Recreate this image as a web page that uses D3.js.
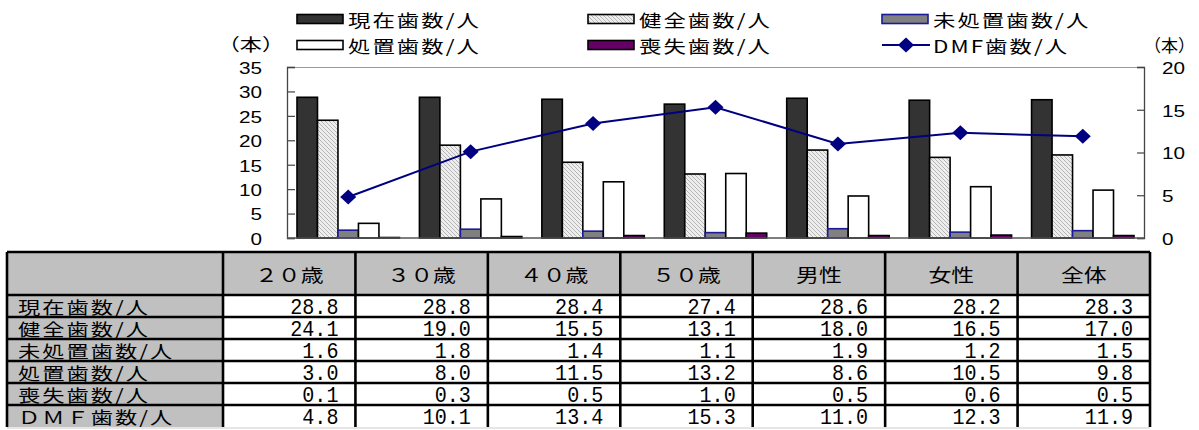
<!DOCTYPE html>
<html><head><meta charset="utf-8">
<script src="https://cdn.jsdelivr.net/npm/d3@7"></script>
<style>body{margin:0;background:#fff}svg{display:block}</style>
</head><body>
<svg id="c" width="1199" height="430"></svg>
<script>
const categories = ["２０歳","３０歳","４０歳","５０歳","男性","女性","全体"];
const present   = [28.8,28.8,28.4,27.4,28.6,28.2,28.3];
const healthy   = [24.1,19.0,15.5,13.1,18.0,16.5,17.0];
const untreated = [1.6,1.8,1.4,1.1,1.9,1.2,1.5];
const treated   = [3.0,8.0,11.5,13.2,8.6,10.5,9.8];
const lost      = [0.1,0.3,0.5,1.0,0.5,0.6,0.5];
const dmf       = [4.8,10.1,13.4,15.3,11.0,12.3,11.9];
const barSeriesNames = ["現在歯数/人","健全歯数/人","未処置歯数/人","処置歯数/人","喪失歯数/人"];
const lineSeriesName = "DMF歯数/人";
const tableRowLabels = ["現在歯数/人","健全歯数/人","未処置歯数/人","処置歯数/人","喪失歯数/人","ＤＭＦ歯数/人"];
const leftTicks = [0,5,10,15,20,25,30,35];
const rightTicks = [0,5,10,15,20];
const unitLabel = "（本）";

const barSeries = [present, healthy, untreated, treated, lost];
const tableRows = [present, healthy, untreated, treated, lost, dmf];

const svg = d3.select("#c");
const CJK = "'Noto Sans CJK JP','Noto Sans',sans-serif";
const SANS = "'Liberation Sans',Arial,sans-serif";
const MONO = "'Liberation Mono','DejaVu Sans Mono',monospace";

const defs = svg.append("defs");
const pat = defs.append("pattern").attr("id","hatch").attr("patternUnits","userSpaceOnUse")
  .attr("width",4).attr("height",4);
pat.append("rect").attr("width",4).attr("height",4).attr("fill","#eeeeee");
pat.append("path").attr("d","M-1,-1 L5,5 M-1,3 L1,5 M3,-1 L5,1").attr("stroke","#b4b4b4").attr("stroke-width",1);

const styles = [
  {fill:"#333333", stroke:"#000"},
  {fill:"url(#hatch)", stroke:"#000"},
  {fill:"#808080", stroke:"#1a1a9a"},
  {fill:"#ffffff", stroke:"#000"},
  {fill:"#660066", stroke:"#000"}
];

function stext(g, x, y, t, opt){
  const o = Object.assign({size:17, family:CJK, sx:1.28, sy:1, anchor:"start", base:"auto", fill:"#000", ls:0}, opt||{});
  return g.append("text").attr("transform",`translate(${x},${y}) scale(${o.sx},${o.sy})`)
    .attr("text-anchor",o.anchor).attr("dominant-baseline",o.base)
    .attr("letter-spacing",o.ls)
    .attr("font-family",o.family).attr("font-size",o.size).attr("fill",o.fill).text(t);
}

const plotL = 287, plotR = 1144, plotT = 67, plotB = 238;
const x = d3.scaleBand().domain(categories).range([plotL, plotR]).padding(0);
const inner = d3.scaleBand().domain(d3.range(barSeries.length)).range([10, x.bandwidth()-10]).padding(0);
const yL = d3.scaleLinear().domain([0,35]).range([plotB, plotT]);
const yR = d3.scaleLinear().domain([0,20]).range([plotB, plotT]);

svg.append("line").attr("x1",plotL).attr("x2",plotR).attr("y1",plotT+0.5).attr("y2",plotT+0.5)
  .attr("stroke","#9a9a9a").attr("stroke-width",1);

const gBars = svg.append("g");
barSeries.forEach((vals, si) => {
  gBars.selectAll(null).data(vals).enter().append("rect")
    .attr("x",(d,i)=>x(categories[i])+inner(si))
    .attr("y",d=>yL(d))
    .attr("width",inner.bandwidth())
    .attr("height",d=>plotB-yL(d))
    .attr("fill",styles[si].fill).attr("stroke",styles[si].stroke).attr("stroke-width",1.6);
});

const axL = svg.append("g").attr("transform",`translate(${plotL},0)`)
  .call(d3.axisRight(yL).tickValues(leftTicks).tickSize(8).tickFormat(""));
const axR = svg.append("g").attr("transform",`translate(${plotR},0)`)
  .call(d3.axisLeft(yR).tickValues(rightTicks).tickSize(7).tickFormat(""));
[axL, axR].forEach(a => { a.selectAll("path").attr("stroke","#444").attr("stroke-width",1.3);
  a.selectAll("line").attr("stroke","#444").attr("stroke-width",1.2); });
svg.append("line").attr("x1",plotL).attr("x2",plotR).attr("y1",plotB).attr("y2",plotB)
  .attr("stroke","#555").attr("stroke-width",1.3);

leftTicks.forEach(t => stext(svg, 262, yL(t)+1, String(t), {family:SANS, size:17, sx:1.22, anchor:"end", base:"central"}));
rightTicks.forEach(t => stext(svg, 1162, yR(t)+1, String(t), {family:SANS, size:17, sx:1.22, anchor:"start", base:"central"}));

const line = d3.line().x((d,i)=>x(categories[i])+x.bandwidth()/2).y(d=>yR(d));
svg.append("path").datum(dmf).attr("d",line).attr("fill","none").attr("stroke","#000080").attr("stroke-width",2);
const diamond = (cx,cy)=>`M${cx},${cy-7.5}L${cx+8},${cy}L${cx},${cy+7.5}L${cx-8},${cy}Z`;
svg.selectAll(null).data(dmf).enter().append("path")
  .attr("d",(d,i)=>diamond(x(categories[i])+x.bandwidth()/2, yR(d))).attr("fill","#000080");

const legCols = [297, 588, 882];
const legRows = [19, 45];
const legendItems = [
  {name:barSeriesNames[0], s:0, col:0,row:0},
  {name:barSeriesNames[1], s:1, col:1,row:0},
  {name:barSeriesNames[2], s:2, col:2,row:0},
  {name:barSeriesNames[3], s:3, col:0,row:1},
  {name:barSeriesNames[4], s:4, col:1,row:1},
  {name:lineSeriesName, s:-1, col:2,row:1}
];
legendItems.forEach(it => {
  const lx = legCols[it.col], ly = legRows[it.row];
  if (it.s >= 0) {
    svg.append("rect").attr("x",lx).attr("y",ly-4.5).attr("width",46).attr("height",9)
      .attr("fill",styles[it.s].fill).attr("stroke",styles[it.s].stroke).attr("stroke-width",1.6);
  } else {
    svg.append("line").attr("x1",lx).attr("x2",lx+48).attr("y1",ly).attr("y2",ly).attr("stroke","#000080").attr("stroke-width",2);
    svg.append("path").attr("d",diamond(lx+24,ly)).attr("fill","#000080");
  }
  stext(svg, lx+51, ly+1, it.name, {size:17.5, sx:1.28, base:"central", ls:1.6});
});
stext(svg, 284, 44, unitLabel, {size:17, sx:1.3, anchor:"end", base:"central"});
stext(svg, 1195, 44, unitLabel, {size:17, sx:1.0, anchor:"end", base:"central"});

const tL = 7, tC = 223, tR = 1150, tT = 252, tH = 295, tB = 427;
const tx = d3.scaleBand().domain(categories).range([tC, tR]);
const ty = d3.scaleBand().domain(d3.range(tableRows.length)).range([tH, tB]);
const gt = svg.append("g");
gt.append("rect").attr("x",tL).attr("y",tT).attr("width",tR-tL).attr("height",tH-tT).attr("fill","#c0c0c0");
gt.append("rect").attr("x",tL).attr("y",tH).attr("width",tC-tL).attr("height",tB-tH).attr("fill","#c0c0c0");
categories.forEach(c => stext(gt, tx(c)+tx.bandwidth()/2, (tT+tH)/2+1, c, {size:18, sx:1.27, anchor:"middle", base:"central"}));
tableRows.forEach((vals, r) => {
  const yc = ty(r)+ty.bandwidth()/2 + 1;
  stext(gt, 18, yc, tableRowLabels[r], {size:17.5, sx:1.27, anchor:"start", base:"central", ls:1.6});
  vals.forEach((v,i) => stext(gt, tx(categories[i])+tx.bandwidth()-17, yc+1, v.toFixed(1),
      {family:MONO, size:19.5, sx:1.03, sy:1.15, anchor:"end", base:"central"}));
});
const bw = 2.6;
const hl = [tT, tH].concat(d3.range(1, tableRows.length).map(r=>ty(r)));
hl.forEach(yy => gt.append("line").attr("x1",tL).attr("x2",tR).attr("y1",yy).attr("y2",yy).attr("stroke","#000").attr("stroke-width",bw));
gt.append("line").attr("x1",tL).attr("x2",tR).attr("y1",tB+1).attr("y2",tB+1).attr("stroke","#ccc").attr("stroke-width",1);
const vl = [tL, tC].concat(categories.map(c=>tx(c)+tx.bandwidth()));
vl.forEach(xx => gt.append("line").attr("x1",xx).attr("x2",xx).attr("y1",tT).attr("y2",tB).attr("stroke","#000").attr("stroke-width",bw));
</script>
</body></html>
